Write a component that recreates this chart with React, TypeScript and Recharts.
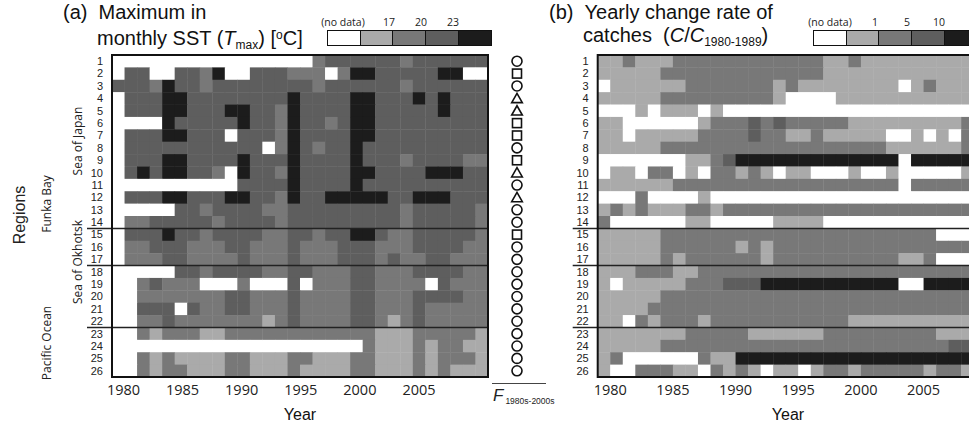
import React from "react";
import { ScatterChart, Scatter, XAxis, YAxis } from "recharts";

// columns = years (cell drawn from the year tick to the next one)
const YEARS = [
  1979, 1980, 1981, 1982, 1983, 1984, 1985, 1986, 1987, 1988,
  1989, 1990, 1991, 1992, 1993, 1994, 1995, 1996, 1997, 1998,
  1999, 2000, 2001, 2002, 2003, 2004, 2005, 2006, 2007, 2008,
];
const YEAR_TICKS = [1980, 1985, 1990, 1995, 2000, 2005];
const REGIONS = [1, 2, 3, 4, 5, 6, 7, 8, 9, 10, 11, 12, 13, 14, 15, 16, 17, 18, 19, 20, 21, 22, 23, 24, 25, 26];
const GROUP_BREAKS = [14.5, 17.5, 22.5];

// one string per region, one digit per year: 0 = no data, 1..4 = class (light -> black)
const SST_LEVELS = [
  "000000000000000023333332333333",
  "033003324003332220244333334400",
  "333243323333333323333332333333",
  "033344333333334333344333434333",
  "033344333443324333344333334333",
  "000043333343324332344333333333",
  "033344333033324333344333333333",
  "033333333333024323343333333333",
  "033344333343334333343332333322",
  "034344332043324333344333344433",
  "000000000033334333343333333333",
  "033344333443324334444433444333",
  "000003323333223333333332333332",
  "022333332333323333333332333332",
  "033343323333223323344322333332",
  "022333222332223222333222333322",
  "022233222232223222333232233222",
  "000003323333223322233222333322",
  "002322200020003022233222203222",
  "002222222332223222233222333322",
  "003330322332223222233222322222",
  "002232222222123222233212322222",
  "002122211222222222222111222221",
  "000000000000000000002111212211",
  "002121111221112211122111212221",
  "002122111221112111122111212111",
];

const CATCH_LEVELS = [
  "112111222222222222112111111111",
  "111112222222222222111111111111",
  "011111122222221211111111012111",
  "111112222222221000011111111111",
  "000101110100000000000000000000",
  "110000001222323222221111111112",
  "110111112222322112111110010102",
  "111112222222222222222221111112",
  "000000011234444444444444044444",
  "011022010221210110001001000001",
  "111111222222222222222222022222",
  "000200001000000000000000000000",
  "121211122122222222222222222222",
  "200000011000001111000000000000",
  "111112222222222222222222222000",
  "111112222221212222222222222222",
  "111112122222212222222222112000",
  "111222112222222222222222222222",
  "101111122233344444444444004444",
  "111112222222222222222222222222",
  "111122222222222222222222222222",
  "110212221222222222221111111111",
  "111111122222111111222222222111",
  "111112222222222222222222222233",
  "120000002114444444444444444444",
  "100222110212101101221222221221",
];

// trend of F (1980s-2000s) per region
const TREND = [
  "circle", "square", "circle", "triangle", "triangle", "square", "square", "circle", "square",
  "triangle", "circle", "triangle", "circle", "circle", "square", "circle", "circle", "circle",
  "circle", "circle", "circle", "circle", "circle", "circle", "circle", "circle",
];

const LEVEL_COLORS = ["#ffffff", "#aaaaaa", "#787878", "#5e5e5e", "#1c1c1c"];
const SST_LEGEND = ["(no data)", "17", "20", "23"];
const CATCH_LEGEND = ["(no data)", "1", "5", "10"];

const PLOT_W = 376;
const PLOT_H = 322;
const CELL_W = PLOT_W / YEARS.length;
const CELL_H = PLOT_H / REGIONS.length;
const SMALL_FONT = "'Open Sans', 'Noto Sans', sans-serif";
const MAIN_FONT = "'Liberation Sans', Arial, sans-serif";

const toCells = (rows: string[]) =>
  rows.flatMap((row, r) =>
    row.split("").map((d, i) => ({ year: YEARS[i], region: REGIONS[r], level: Number(d) }))
  );

const sstCells = toCells(SST_LEVELS);
const catchCells = toCells(CATCH_LEVELS);
const trendData = REGIONS.map((region, i) => ({ x: 0.5, region, kind: TREND[i] }));
// anchors for the group separators and the frame (placed by the chart's own scales)
const breakData = GROUP_BREAKS.map((region) => ({ year: YEARS[0], region }));
const frameData = [{ year: YEARS[0], region: 0.5 }];
const tickAnchors = YEAR_TICKS.map((year) => ({ year, region: 1 }));

const cellShape = (props: any) => {
  const { cx, cy, payload } = props;
  return (
    <rect
      x={cx}
      y={cy - CELL_H / 2}
      width={CELL_W + 0.4}
      height={CELL_H + 0.4}
      fill={LEVEL_COLORS[payload.level]}
    />
  );
};

const breakShape = (props: any) => (
  <line x1={props.cx - 25} x2={props.cx + PLOT_W} y1={props.cy} y2={props.cy} stroke="#222" strokeWidth={1.5} />
);

const frameShape = (props: any) => (
  <rect x={props.cx} y={props.cy} width={PLOT_W} height={PLOT_H} fill="none" stroke="#111" strokeWidth={2} />
);

const trendShape = (props: any) => {
  const { cx, cy, payload } = props;
  const st = { fill: "none", stroke: "#111", strokeWidth: 1.6 };
  if (payload.kind === "square") return <rect x={cx - 4.5} y={cy - 4.5} width={9} height={9} {...st} />;
  if (payload.kind === "triangle")
    return <polygon points={`${cx},${cy - 5} ${cx + 5.3},${cy + 4.3} ${cx - 5.3},${cy + 4.3}`} {...st} />;
  return <circle cx={cx} cy={cy} r={5} {...st} />;
};

function Heatmap({
  cells,
  left,
  width,
  plotLeft,
  labelDomain,
}: {
  cells: any[];
  left: number;
  width: number;
  plotLeft: number;
  labelDomain: number[];
}) {
  const yAxisW = 30;
  const margin = { top: 55, right: width - (plotLeft - left) - PLOT_W, bottom: 20, left: plotLeft - left - yAxisW };
  return (
    <div style={{ position: "absolute", left, top: 0 }}>
      <ScatterChart width={width} height={427} margin={margin}>
        <XAxis
          xAxisId="cells"
          type="number"
          dataKey="year"
          domain={[1979, 2009]}
          orientation="top"
          height={0}
          hide
        />
        {/* the year labels of the original figure sit on their own, slightly different spacing */}
        <XAxis
          xAxisId="labels"
          type="number"
          dataKey="year"
          domain={labelDomain}
          ticks={YEAR_TICKS}
          interval={0}
          height={30}
          tickLine={false}
          axisLine={false}
          tickSize={0}
          tickMargin={8}
          tick={{ fontSize: 14.5, fill: "#222", fontFamily: SMALL_FONT }}
        />
        <YAxis
          type="number"
          dataKey="region"
          domain={[0.5, 26.5]}
          reversed
          ticks={REGIONS}
          interval={0}
          width={yAxisW}
          tickLine={false}
          axisLine={false}
          tickSize={0}
          tickMargin={9}
          tick={{ fontSize: 11, fill: "#222", fontFamily: MAIN_FONT }}
        />
        <Scatter xAxisId="labels" data={tickAnchors} shape={() => <g />} isAnimationActive={false} />
        <Scatter xAxisId="cells" data={cells} shape={cellShape} isAnimationActive={false} />
        <Scatter xAxisId="cells" data={breakData} shape={breakShape} isAnimationActive={false} />
        <Scatter xAxisId="cells" data={frameData} shape={frameShape} isAnimationActive={false} />
      </ScatterChart>
    </div>
  );
}

function ColorLegend({ left, labels, labelX }: { left: number; labels: string[]; labelX: number[] }) {
  return (
    <>
      {labels.map((t, i) => (
        <div
          key={t}
          style={{
            position: "absolute",
            left: labelX[i],
            top: 15,
            transform: "translateX(-50%)",
            fontFamily: SMALL_FONT,
            fontSize: 10.5,
            color: "#222",
            whiteSpace: "nowrap",
          }}
        >
          {t}
        </div>
      ))}
      <div
        style={{
          position: "absolute",
          left,
          top: 30,
          width: 162.5,
          height: 14,
          border: "1.5px solid #111",
          display: "flex",
        }}
      >
        {LEVEL_COLORS.map((c, i) => (
          <div key={c} style={{ flex: 1, background: c, borderLeft: i ? "1.5px solid #111" : "none" }} />
        ))}
      </div>
    </>
  );
}

const rotated = (text: string, x: number, y: number, size: number, font: string) => (
  <div
    style={{
      position: "absolute",
      left: x,
      top: y,
      transform: "translate(-50%, -50%) rotate(-90deg)",
      fontFamily: font,
      fontSize: size,
      color: "#222",
      whiteSpace: "nowrap",
    }}
  >
    {text}
  </div>
);

export default function App() {
  const title: React.CSSProperties = {
    position: "absolute",
    fontFamily: MAIN_FONT,
    fontSize: 20,
    lineHeight: "20px",
    color: "#111",
    whiteSpace: "nowrap",
  };
  return (
    <div
      style={{
        position: "absolute",
        left: 0,
        top: 0,
        width: 969,
        height: 427,
        overflow: "hidden",
        background: "#fff",
        fontFamily: MAIN_FONT,
      }}
    >
      <Heatmap cells={sstCells} left={0} width={500} plotLeft={112} labelDomain={[1979.03, 2010.84]} />
      <Heatmap cells={catchCells} left={490} width={500} plotLeft={597.7} labelDomain={[1979, 2009]} />

      {/* F trend symbols */}
      <div style={{ position: "absolute", left: 490, top: 0 }}>
        <ScatterChart width={54} height={427} margin={{ top: 55, right: 0, bottom: 50, left: 0 }}>
          <XAxis type="number" dataKey="x" domain={[0, 1]} hide />
          <YAxis type="number" dataKey="region" domain={[0.5, 26.5]} reversed hide />
          <Scatter data={trendData} shape={trendShape} isAnimationActive={false} />
        </ScatterChart>
      </div>
      <div style={{ position: "absolute", left: 492, top: 383, width: 54, height: 1, background: "#444" }} />
      <div style={{ position: "absolute", left: 493, top: 386, whiteSpace: "nowrap", color: "#222" }}>
        <span style={{ fontFamily: MAIN_FONT, fontStyle: "italic", fontSize: 17 }}>F</span>
        <span style={{ fontFamily: MAIN_FONT, fontSize: 8.5, marginLeft: 2, verticalAlign: "-3px" }}>1980s-2000s</span>
      </div>

      {/* titles */}
      <div style={{ ...title, left: 63, top: 2 }}>
        (a)&nbsp;&nbsp;Maximum in
      </div>
      <div style={{ ...title, left: 97, top: 25 }}>
        monthly SST (<i>T</i>
        <span style={{ fontSize: 12, verticalAlign: "-4px" }}>max</span>) [
        <span style={{ fontSize: 12, verticalAlign: "6px" }}>o</span>C]
      </div>
      <div style={{ ...title, left: 549, top: 2 }}>
        (b)&nbsp;&nbsp;Yearly change rate of
      </div>
      <div style={{ ...title, left: 583, top: 25 }}>
        catches&nbsp;&nbsp;(<i>C</i>/<i>C</i>
        <span style={{ fontSize: 12, verticalAlign: "-4px" }}>1980-1989</span>)
      </div>

      <ColorLegend left={327} labels={SST_LEGEND} labelX={[343, 389, 421, 453]} />
      <ColorLegend left={813} labels={CATCH_LEGEND} labelX={[830, 875, 907, 939]} />

      {/* axis titles */}
      <div style={{ position: "absolute", left: 300, top: 406, transform: "translateX(-50%)", fontSize: 16, color: "#111" }}>
        Year
      </div>
      <div style={{ position: "absolute", left: 788, top: 406, transform: "translateX(-50%)", fontSize: 16, color: "#111" }}>
        Year
      </div>
      {rotated("Regions", 20, 215, 16, MAIN_FONT)}
      {rotated("Sea of Japan", 77, 141, 12, SMALL_FONT)}
      {rotated("Funka Bay", 46, 204, 12, SMALL_FONT)}
      {rotated("Sea of Okhotsk", 77, 262, 12, SMALL_FONT)}
      {rotated("Pacific Ocean", 46, 343, 12, SMALL_FONT)}
    </div>
  );
}
